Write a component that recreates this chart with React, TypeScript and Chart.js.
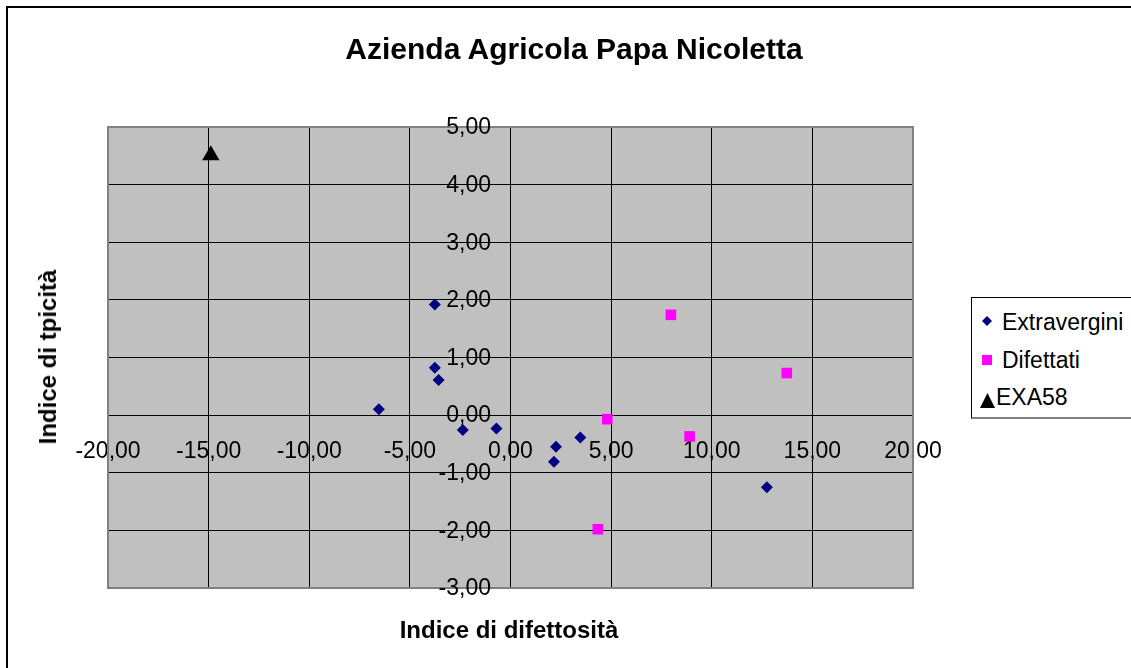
import React, { useEffect, useRef } from "react";
import { Chart, registerables } from "chart.js";

Chart.register(...registerables);

const chartTitle = "Azienda Agricola Papa Nicoletta";
const xAxisTitle = "Indice di difettosità";
const yAxisTitle = "Indice di tpicità";

const seriesNames = ["Extravergini", "Difettati", "EXA58"];

const extraverginiX = [-3.76, -3.76, -3.57, -6.54, -2.37, -0.7, 2.26, 2.16, 3.47, 12.74];
const extraverginiY = [1.92, 0.82, 0.61, 0.1, -0.26, -0.23, -0.55, -0.81, -0.39, -1.25];

const difettatiX = [7.97, 13.73, 4.81, 8.9, 4.34];
const difettatiY = [1.74, 0.73, -0.07, -0.37, -1.98];

const exa58X = [-14.89];
const exa58Y = [4.51];

const xTicks = [-20, -15, -10, -5, 0, 5, 10, 15, 20];
const yTicks = [-3, -2, -1, 0, 1, 2, 3, 4, 5];

const FONT = "'Liberation Sans', Arial, sans-serif";

const fmt = (v: number) => v.toFixed(2).replace(".", ",");

const toPoints = (xs: number[], ys: number[]) => xs.map((x, i) => ({ x, y: ys[i] }));

const plotAreaPlugin = {
  id: "plotArea",
  beforeDraw(chart: any) {
    const { ctx, chartArea } = chart;
    ctx.save();
    ctx.fillStyle = "#C0C0C0";
    ctx.fillRect(chartArea.left, chartArea.top, chartArea.right - chartArea.left, chartArea.bottom - chartArea.top);
    ctx.restore();
  },
  beforeDatasetsDraw(chart: any) {
    const { ctx, chartArea } = chart;
    ctx.save();
    ctx.strokeStyle = "#808080";
    ctx.lineWidth = 2;
    ctx.strokeRect(chartArea.left, chartArea.top, chartArea.right - chartArea.left, chartArea.bottom - chartArea.top);
    // y tick labels, placed left of the y axis (which crosses at x = 0)
    const xScale = chart.scales.x;
    const yScale = chart.scales.y;
    const axisX = xScale.getPixelForValue(0);
    ctx.fillStyle = "#000";
    ctx.font = `23px ${FONT}`;
    ctx.textAlign = "right";
    ctx.textBaseline = "middle";
    yTicks.forEach((v) => {
      ctx.fillText(fmt(v), axisX - 19.5, yScale.getPixelForValue(v) + 1);
    });
    ctx.restore();
  },
};

function textTop(baseline: number, size: number) {
  return baseline - 0.8465 * size;
}

export default function App() {
  const canvasRef = useRef<HTMLCanvasElement | null>(null);

  useEffect(() => {
    if (!canvasRef.current) return;
    const chart = new Chart(canvasRef.current, {
      type: "scatter",
      data: {
        datasets: [
          {
            label: seriesNames[0],
            data: toPoints(extraverginiX, extraverginiY),
            pointStyle: "rectRot",
            pointRadius: 6,
            pointBorderWidth: 0,
            backgroundColor: "#000080",
            borderColor: "#000080",
          },
          {
            label: seriesNames[1],
            data: toPoints(difettatiX, difettatiY),
            pointStyle: "rect",
            pointRadius: 7.5,
            pointBorderWidth: 0,
            backgroundColor: "#FF00FF",
            borderColor: "#FF00FF",
          },
          {
            label: seriesNames[2],
            data: toPoints(exa58X, exa58Y),
            pointStyle: "triangle",
            pointRadius: 10,
            pointBorderWidth: 0,
            backgroundColor: "#000000",
            borderColor: "#000000",
          },
        ],
      },
      options: {
        animation: false,
        responsive: false,
        devicePixelRatio: 1,
        layout: { padding: { left: 108, top: 127, right: 218, bottom: 80 } },
        plugins: {
          legend: { display: false },
          title: { display: false },
          tooltip: { enabled: false },
        },
        scales: {
          x: {
            type: "linear",
            min: -20,
            max: 20,
            position: { y: 0 },
            afterBuildTicks: (scale: any) => {
              scale.ticks = xTicks.map((v) => ({ value: v }));
            },
            afterFit: (scale: any) => {
              scale.height = 0;
            },
            grid: { color: "#000", lineWidth: 1, drawTicks: true, tickLength: 7 },
            border: { display: true, color: "#000", width: 1 },
            ticks: {
              color: "#000",
              font: { family: FONT, size: 23 },
              padding: 16,
              maxRotation: 0,
              autoSkip: false,
              callback: (v: any) => fmt(Number(v)),
            },
          },
          y: {
            type: "linear",
            min: -3,
            max: 5,
            position: { x: 0 },
            afterBuildTicks: (scale: any) => {
              scale.ticks = yTicks.map((v) => ({ value: v }));
            },
            afterFit: (scale: any) => {
              scale.width = 0;
            },
            grid: { color: "#000", lineWidth: 1, drawTicks: true, tickLength: 6 },
            border: { display: true, color: "#000", width: 1 },
            ticks: {
              display: false,
              autoSkip: false,
            },
          },
        },
      } as any,
      plugins: [plotAreaPlugin],
    });
    return () => chart.destroy();
  }, []);

  const legendFont = 23;

  return (
    <div
      style={{
        position: "fixed",
        left: 0,
        top: 0,
        width: 1131,
        height: 668,
        overflow: "hidden",
        background: "#fff",
        fontFamily: FONT,
        color: "#000",
      }}
    >
      {/* outer chart frame */}
      <div
        style={{
          position: "absolute",
          left: 6,
          top: 6,
          width: 1200,
          height: 800,
          borderLeft: "2px solid #000",
          borderTop: "2px solid #000",
          boxSizing: "border-box",
        }}
      />
      <canvas
        ref={canvasRef}
        width={1131}
        height={668}
        style={{ position: "absolute", left: 0, top: 0, width: 1131, height: 668 }}
      />
      {/* title */}
      <div
        style={{
          position: "absolute",
          left: 574,
          top: textTop(59, 30),
          transform: "translateX(-50%)",
          fontSize: 30,
          lineHeight: "30px",
          fontWeight: "bold",
          whiteSpace: "nowrap",
        }}
      >
        {chartTitle}
      </div>
      {/* x axis title */}
      <div
        style={{
          position: "absolute",
          left: 509,
          top: textTop(638.5, 24),
          transform: "translateX(-50%)",
          fontSize: 24,
          lineHeight: "24px",
          fontWeight: "bold",
          whiteSpace: "nowrap",
        }}
      >
        {xAxisTitle}
      </div>
      {/* y axis title */}
      <div
        style={{
          position: "absolute",
          left: 47.5,
          top: 357,
          transform: "translate(-50%, -50%) rotate(-90deg)",
          fontSize: 24,
          lineHeight: "24px",
          fontWeight: "bold",
          whiteSpace: "nowrap",
        }}
      >
        {yAxisTitle}
      </div>
      {/* legend */}
      <div
        style={{
          position: "absolute",
          left: 971,
          top: 297,
          width: 200,
          height: 119,
          borderLeft: "1px solid #000",
          borderTop: "1px solid #000",
          borderBottom: "2px solid #808080",
          background: "#fff",
        }}
      />
      <svg
        width={1131}
        height={668}
        style={{ position: "absolute", left: 0, top: 0, pointerEvents: "none" }}
      >
        <polygon points="987,316 992,321 987,326 982,321" fill="#000080" />
        <rect x={982} y={355} width={10} height={10} fill="#FF00FF" />
        <polygon points="987.5,393 995,408 980,408" fill="#000000" />
      </svg>
      <div
        style={{
          position: "absolute",
          left: 1002,
          top: textTop(330, legendFont),
          fontSize: legendFont,
          lineHeight: `${legendFont}px`,
          whiteSpace: "nowrap",
        }}
      >
        {seriesNames[0]}
      </div>
      <div
        style={{
          position: "absolute",
          left: 1002,
          top: textTop(368.3, legendFont),
          fontSize: legendFont,
          lineHeight: `${legendFont}px`,
          whiteSpace: "nowrap",
        }}
      >
        {seriesNames[1]}
      </div>
      <div
        style={{
          position: "absolute",
          left: 996,
          top: textTop(405, legendFont),
          fontSize: legendFont,
          lineHeight: `${legendFont}px`,
          whiteSpace: "nowrap",
        }}
      >
        {seriesNames[2]}
      </div>
    </div>
  );
}
